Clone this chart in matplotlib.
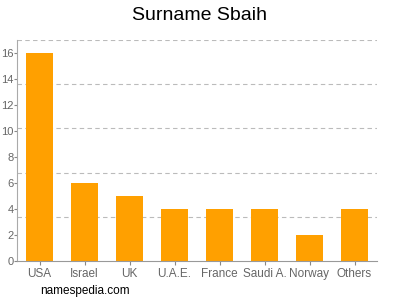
import numpy as np
from matplotlib import pyplot as plt

plt.rcParams['font.family'] = ['Liberation Sans', 'DejaVu Sans']

countries = ["USA", "Israel", "UK", "U.A.E.", "France", "Saudi A.", "Norway", "Others"]
counts = [16, 6, 5, 4, 4, 4, 2, 4]
y_ticks = [0, 2, 4, 6, 8, 10, 12, 14, 16]
grid_lines = [3.4, 6.8, 10.2, 13.6, 17]

fig = plt.figure(figsize=(4, 3), dpi=100)
ax = fig.add_axes([17/400, 1 - 261/300, 360/400, 221/300])

x = np.arange(len(countries))
ax.bar(x, counts, width=0.62, color="#FFA000", zorder=2)

for g in grid_lines:
    ax.axhline(g, color="#bbbbbb", linestyle=(0, (4, 3)), linewidth=0.8, zorder=1)

ax.set_xlim(-0.5, len(countries) - 0.5)
ax.set_ylim(0, 17)
ax.set_xticks(x)
ax.set_xticklabels(countries)
ax.set_yticks(y_ticks)
ax.tick_params(colors="#888888", labelsize=8.5, width=0.8)
ax.tick_params(axis="x", pad=2, length=3)
ax.tick_params(axis="y", pad=0.5, length=2, labelsize=8)
for t in ax.get_xticklabels() + ax.get_yticklabels():
    t.set_color("#666666")

for s in ["top", "right"]:
    ax.spines[s].set_visible(False)
ax.spines["left"].set_color("#aaaaaa")
ax.spines["bottom"].set_color("#999999")

fig.text(0.5, 1 - 15/300, "Surname Sbaih", ha="center", va="center", fontsize=14)
fig.text(40/400, 1 - 291/300, "namespedia.com", ha="left", va="center", fontsize=8.5)

plt.savefig("out.png", dpi=100)
